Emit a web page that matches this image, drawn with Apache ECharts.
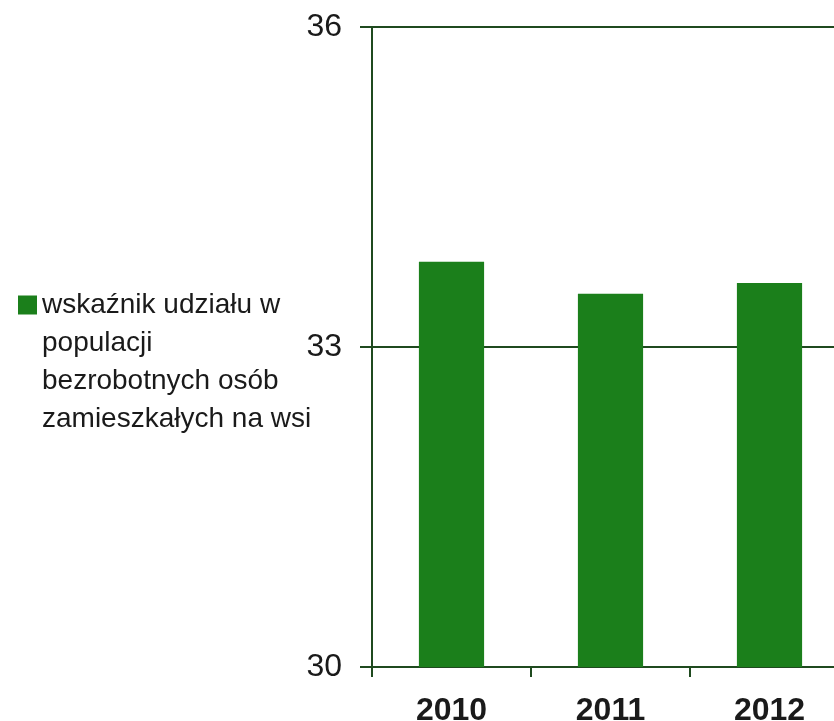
<!DOCTYPE html>
<html>
<head>
<meta charset="utf-8">
<script src="https://cdn.jsdelivr.net/npm/echarts@6/dist/echarts.min.js"></script>
<style>
html,body{margin:0;padding:0;background:#fff;}
#c{width:834px;height:721px;}
</style>
</head>
<body>
<div id="c"></div>
<script>
var categories = ['2010', '2011', '2012'];
var seriesName = 'wskaźnik udziału w\npopulacji\nbezrobotnych osób\nzamieszkałych na wsi';
var values = [33.8, 33.5, 33.6];
var yMin = 30, yMax = 36, yStep = 3;

var axisColor = '#1f4a1f';
var font = '"Liberation Sans", Arial, sans-serif';
var chart = echarts.init(document.getElementById('c'), null, {renderer: 'canvas'});
chart.setOption({
  animation: false,
  backgroundColor: '#ffffff',
  grid: {left: 372, width: 477, top: 27, height: 640, containLabel: false, outerBoundsMode: 'none'},
  legend: {
    left: 18, top: 172,
    padding: 0,
    orient: 'vertical',
    itemWidth: 19, itemHeight: 19,
    itemGap: 0,
    icon: 'rect',
    formatter: function (name) { return '\n\n\n' + name; },
    textStyle: {fontFamily: font, fontSize: 28, color: '#1a1a1a', lineHeight: 38},
    data: [seriesName]
  },
  xAxis: {
    type: 'category',
    data: categories,
    boundaryGap: true,
    axisLine: {lineStyle: {color: axisColor, width: 2}},
    axisTick: {show: true, length: 10, lineStyle: {color: axisColor, width: 2}},
    axisLabel: {fontFamily: font, fontSize: 32, fontWeight: 'bold', color: '#1a1a1a', margin: 28}
  },
  yAxis: {
    type: 'value',
    min: yMin, max: yMax, interval: yStep,
    axisLine: {show: true, lineStyle: {color: axisColor, width: 2}},
    axisTick: {show: true, length: 12, lineStyle: {color: axisColor, width: 2}},
    splitLine: {show: true, lineStyle: {color: axisColor, width: 2}},
    axisLabel: {fontFamily: font, fontSize: 32, color: '#1a1a1a', margin: 30}
  },
  series: [{
    name: seriesName,
    type: 'bar',
    data: values,
    barWidth: '41%',
    itemStyle: {color: '#1b7f1b'}
  }]
});
</script>
</body>
</html>
